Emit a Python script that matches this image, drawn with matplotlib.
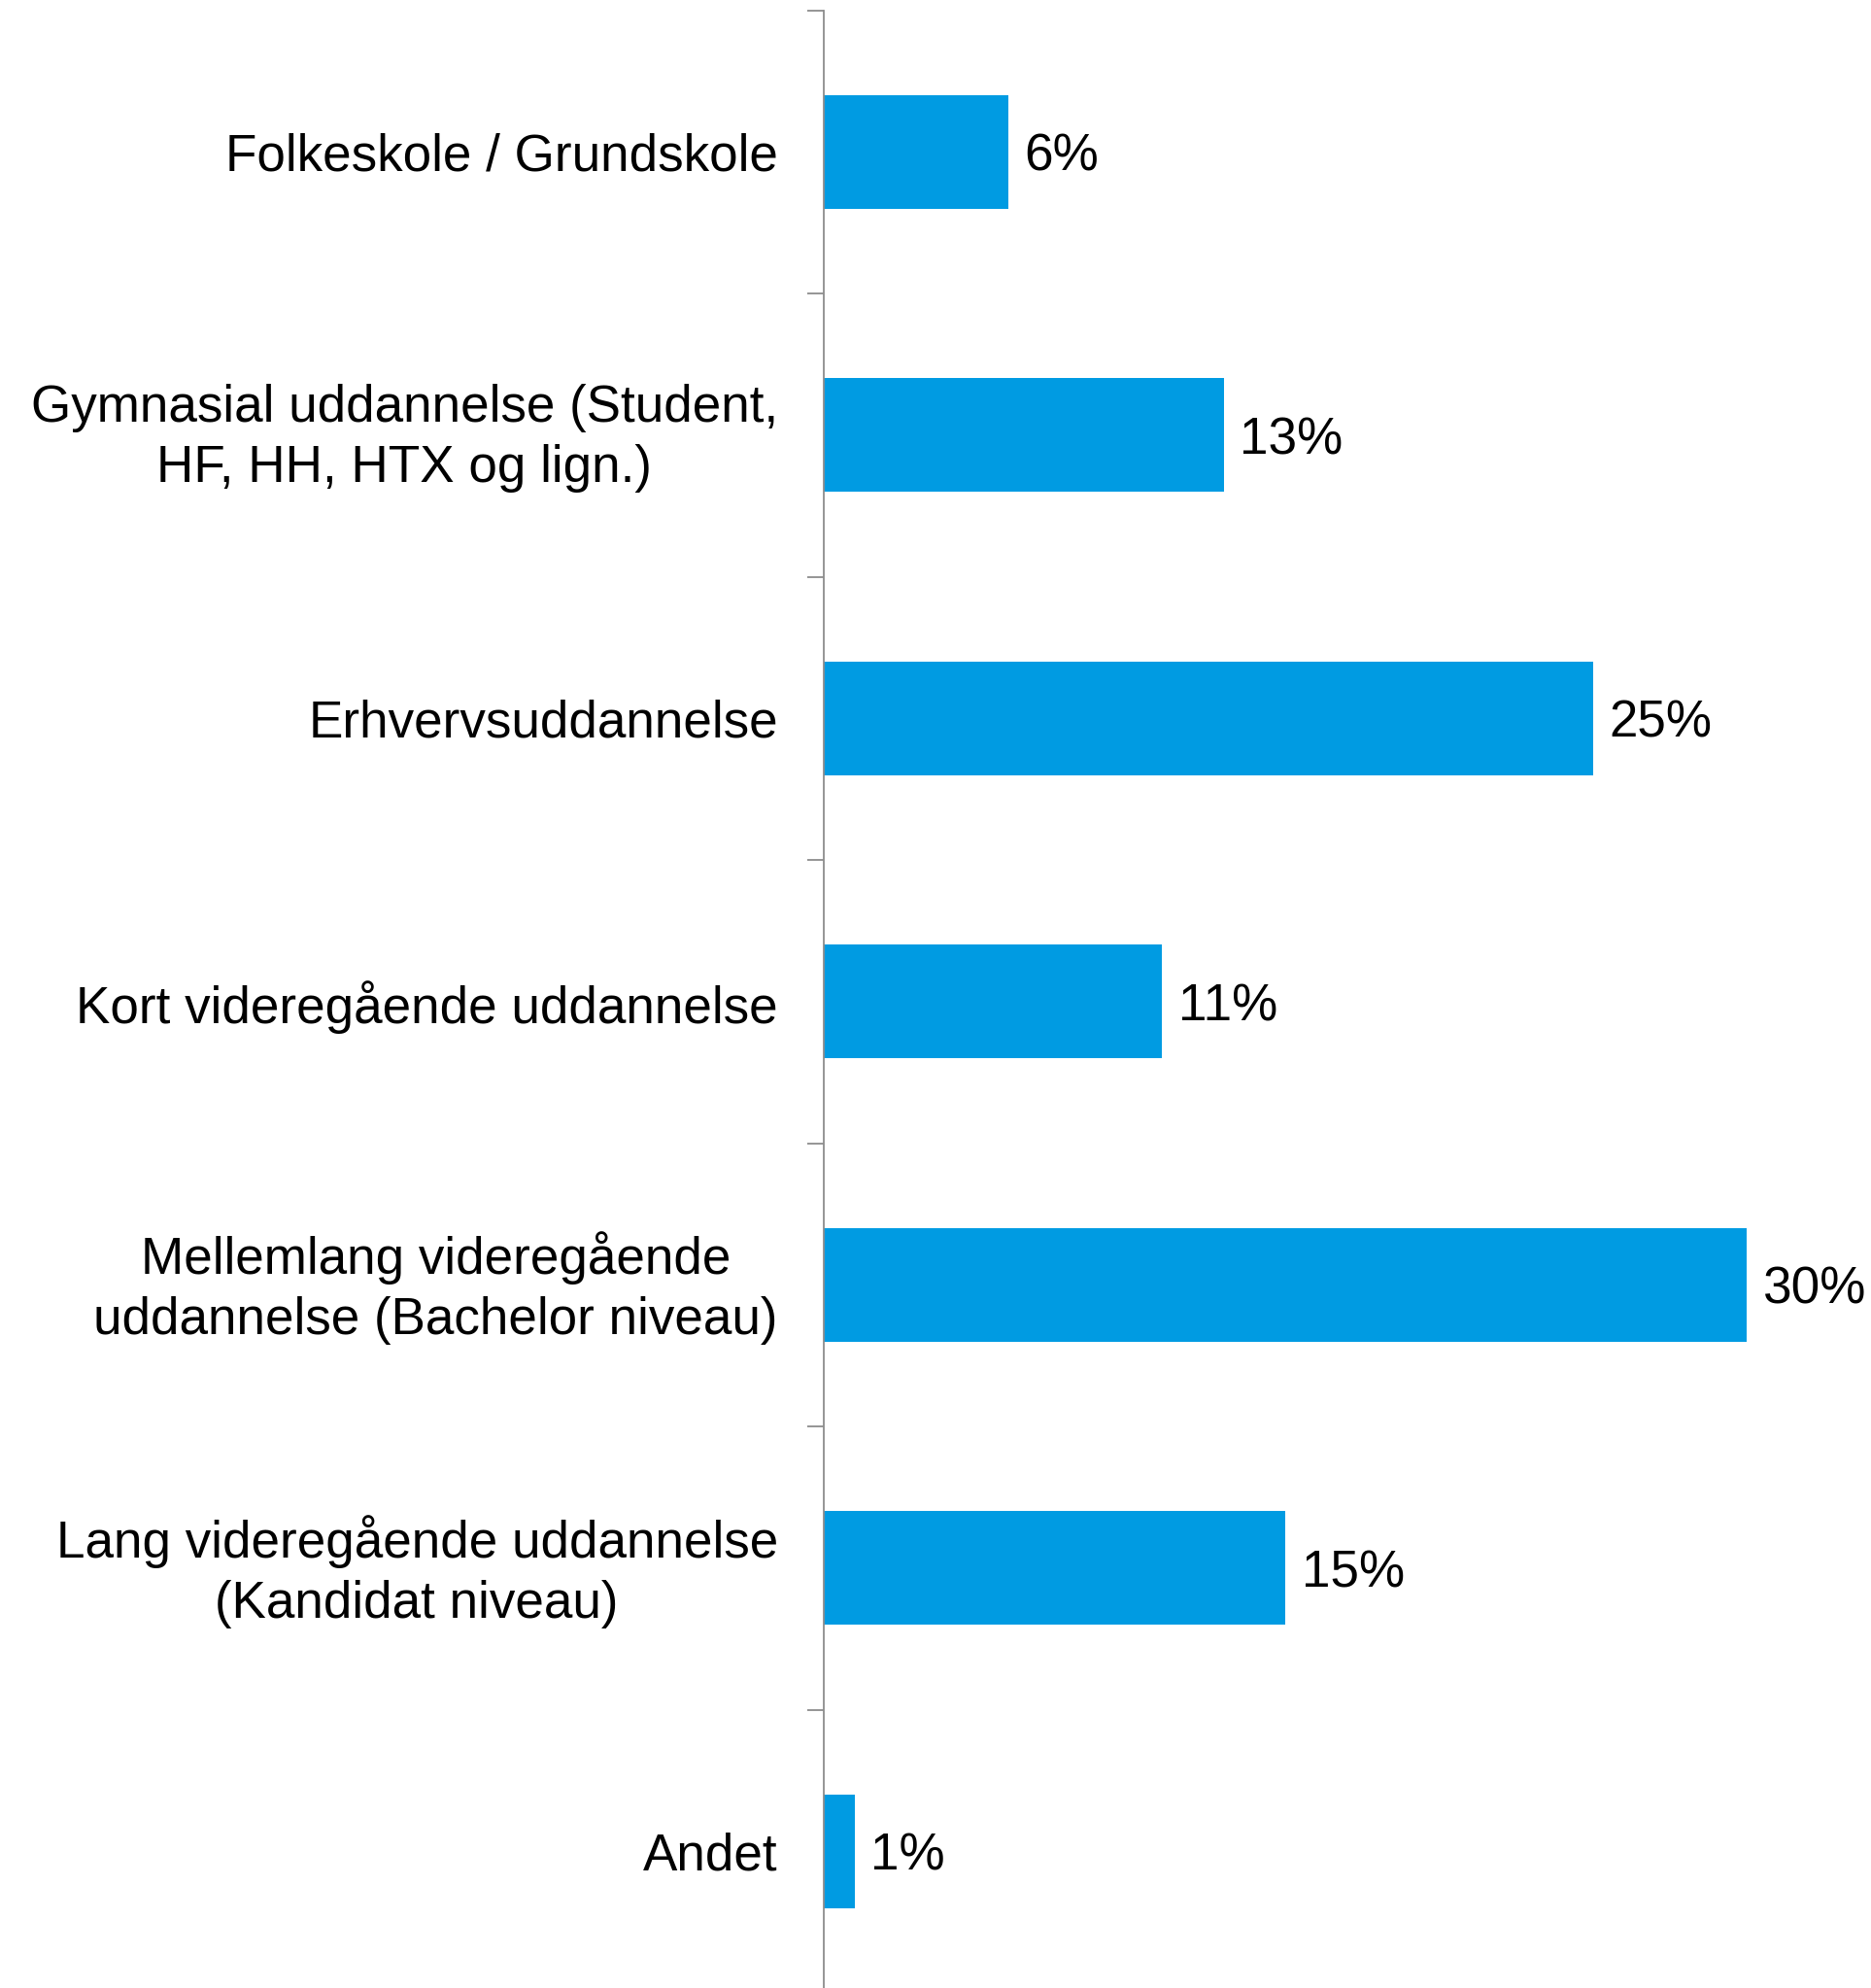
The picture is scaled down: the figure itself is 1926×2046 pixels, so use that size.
import matplotlib.pyplot as plt
import numpy as np

categories = [
    'Folkeskole / Grundskole',
    'Gymnasial uddannelse (Student,\nHF, HH, HTX og lign.)',
    'Erhvervsuddannelse',
    'Kort videregående uddannelse',
    'Mellemlang videregående\nuddannelse (Bachelor niveau)',
    'Lang videregående uddannelse\n(Kandidat niveau)',
    'Andet',
]
values = [6, 13, 25, 11, 30, 15, 1]
value_labels = ['6%', '13%', '25%', '11%', '30%', '15%', '1%']

plt.rcParams['font.family'] = ['Liberation Sans', 'DejaVu Sans']

W, H = 1926, 2046
fig = plt.figure(figsize=(W / 100, H / 100), dpi=100)
# axes placed in pixel terms: left spine at x=848, top at y=10.5, 7 rows of 291.5 px
left = 848 / W
top = (H - 10.5) / H
bottom = (H - (10.5 + 7 * 291.5)) / H
ax = fig.add_axes([left, bottom, 1 - left, top - bottom])

y = np.arange(len(categories))
bar_color = '#009BE2'
ax.barh(y, values, height=0.4, color=bar_color)

ax.set_ylim(len(categories) - 0.5, -0.5)
ax.set_xlim(0, (W - 848) / 31.66)

for spine in ['top', 'right', 'bottom']:
    ax.spines[spine].set_visible(False)
ax.spines['left'].set_color('#8c8c8c')
ax.spines['left'].set_linewidth(1.3)
ax.set_xticks([])

# ticks at category boundaries only
ax.set_yticks(np.arange(-0.5, len(categories) + 0.5, 1))
ax.set_yticklabels([])
ax.tick_params(axis='y', which='major', length=12.2, width=1.3, color='#8c8c8c')

# category labels, right-aligned left of the axis
for yi, cat in zip(y, categories):
    two_line = '\n' in cat
    ax.annotate(cat, (0, yi), xytext=(-34, -2.6 if two_line else 0),
                textcoords='offset points', ha='right',
                va='center' if two_line else 'center_baseline',
                multialignment='center', linespacing=1.31,
                fontsize=38.2, annotation_clip=False)

for yi, v, lab in zip(y, values, value_labels):
    ax.annotate(lab, (v, yi), xytext=(12, 0), textcoords='offset points',
                va='center_baseline', ha='left', fontsize=38.2,
                annotation_clip=False)

fig.savefig('out.png', dpi=100)
